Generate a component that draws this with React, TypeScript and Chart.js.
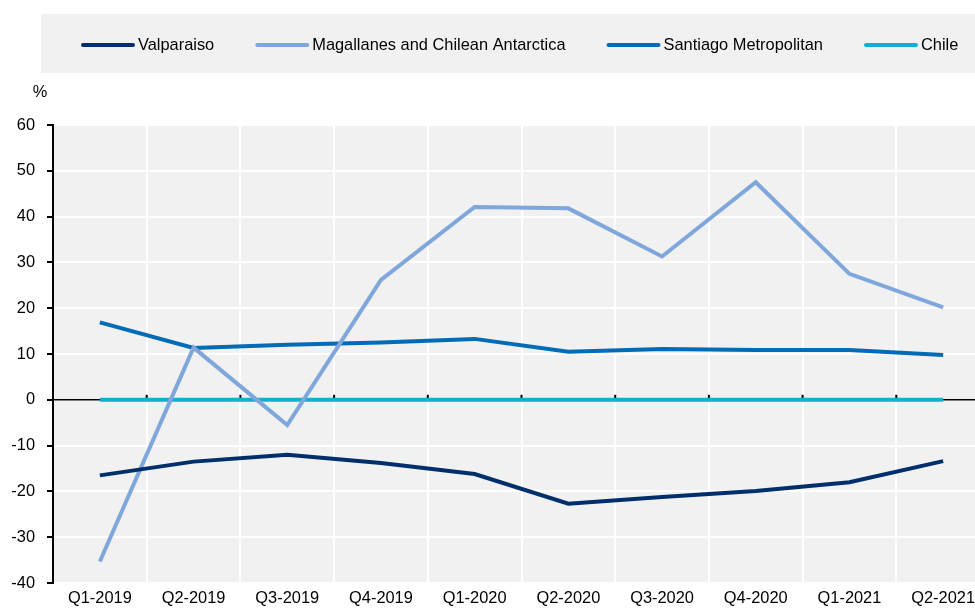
import React, { useEffect, useRef } from "react";
import { Chart, registerables } from "chart.js";

Chart.register(...registerables);

const categories = ["Q1-2019", "Q2-2019", "Q3-2019", "Q4-2019", "Q1-2020", "Q2-2020", "Q3-2020", "Q4-2020", "Q1-2021", "Q2-2021"];
const valparaiso = [-16.5, -13.5, -12.0, -13.8, -16.2, -22.7, -21.2, -19.9, -18.0, -13.4];
const magallanes = [-35.3, 11.4, -5.5, 26.2, 42.1, 41.8, 31.3, 47.5, 27.5, 20.2];
const santiago = [16.9, 11.3, 12.0, 12.5, 13.3, 10.5, 11.1, 10.9, 10.9, 9.8];
const chile = [0, 0, 0, 0, 0, 0, 0, 0, 0, 0];
const seriesNames = ["Valparaiso", "Magallanes and Chilean Antarctica", "Santiago Metropolitan", "Chile"];
const seriesColors = ["#002F6C", "#7FA7DB", "#006BB6", "#12B0CF"];
const yTicks = [60, 50, 40, 30, 20, 10, 0, -10, -20, -30, -40];
const unitLabel = "%";

const FONT = "Arial, 'Liberation Sans', sans-serif";
const FONT_SIZE = 16.4;
const PLOT_BG = "#F1F1F1";

const decorPlugin = {
  id: "decor",
  beforeDraw(chart: any) {
    const { ctx, chartArea } = chart;
    ctx.save();
    ctx.fillStyle = PLOT_BG;
    ctx.fillRect(41, 14, 975 - 41, 59);
    ctx.fillRect(chartArea.left, chartArea.top, chartArea.right - chartArea.left, chartArea.bottom - chartArea.top);
    ctx.restore();
  },
  beforeDatasetsDraw(chart: any) {
    const { ctx, chartArea, scales } = chart;
    const y0 = scales.y.getPixelForValue(0);
    ctx.save();
    ctx.strokeStyle = "#000";
    ctx.lineWidth = 1.5;
    ctx.beginPath();
    ctx.moveTo(chartArea.left, y0);
    ctx.lineTo(chartArea.right, y0);
    ctx.stroke();
    const xs = scales.x;
    const n = categories.length;
    const step = xs.getPixelForValue(1) - xs.getPixelForValue(0);
    ctx.lineWidth = 2;
    for (let i = 1; i < n; i++) {
      const x = xs.getPixelForValue(i) - step / 2;
      ctx.beginPath();
      ctx.moveTo(x, y0);
      ctx.lineTo(x, y0 - 5);
      ctx.stroke();
    }
    ctx.restore();
  },
  afterDraw(chart: any) {
    const { ctx } = chart;
    ctx.save();
    ctx.font = `${FONT_SIZE}px ${FONT}`;
    ctx.fillStyle = "#000";
    ctx.textBaseline = "middle";
    ctx.textAlign = "center";
    ctx.fillText(unitLabel, 40, 92);
    let x = 81;
    const y = 45;
    chart.data.datasets.forEach((ds: any) => {
      ctx.strokeStyle = ds.borderColor;
      ctx.lineWidth = 4;
      ctx.lineCap = "round";
      ctx.beginPath();
      ctx.moveTo(x + 2, y);
      ctx.lineTo(x + 52, y);
      ctx.stroke();
      x += 57;
      ctx.textAlign = "left";
      ctx.fillStyle = "#000";
      ctx.fillText(ds.label, x, y);
      x += ctx.measureText(ds.label).width + 41;
    });
    ctx.restore();
  },
};

export default function App() {
  const ref = useRef<HTMLCanvasElement>(null);
  useEffect(() => {
    if (!ref.current) return;
    const values = [valparaiso, magallanes, santiago, chile];
    const chart = new Chart(ref.current, {
      type: "line",
      data: {
        labels: categories,
        datasets: values.map((v, i) => ({
          label: seriesNames[i],
          data: v,
          borderColor: seriesColors[i],
          backgroundColor: seriesColors[i],
          borderWidth: 4,
          pointRadius: 0,
          tension: 0,
          fill: false,
        })),
      },
      options: {
        animation: false,
        responsive: false,
        maintainAspectRatio: false,
        layout: { padding: { top: 125, left: 0, right: 10, bottom: 0 } },
        plugins: {
          legend: { display: false },
          tooltip: { enabled: false },
        },
        scales: {
          x: {
            offset: true,
            afterFit(scale: any) { scale.height = 25; },
            grid: { offset: true, color: "#FFFFFF", lineWidth: 2, drawTicks: false },
            border: { display: false },
            ticks: { color: "#000", font: { family: FONT, size: FONT_SIZE }, padding: 6, maxRotation: 0, autoSkip: false },
          },
          y: {
            min: -40,
            max: 60,
            afterFit(scale: any) { scale.width = 53; },
            afterBuildTicks(scale: any) { scale.ticks = yTicks.map((v) => ({ value: v })); },
            grid: { color: "#FFFFFF", lineWidth: 2, tickColor: "#000", tickLength: 6, drawOnChartArea: true },
            border: { display: true, color: "#000", width: 2 },
            ticks: { color: "#000", font: { family: FONT, size: FONT_SIZE }, padding: 12 },
          },
        },
      },
      plugins: [decorPlugin],
    });
    return () => chart.destroy();
  }, []);
  return (
    <div style={{ position: "fixed", left: 0, top: 0, width: 975, height: 608, overflow: "hidden", background: "#fff" }}>
      <canvas ref={ref} width={1000} height={608} style={{ display: "block", width: 1000, height: 608 }} />
    </div>
  );
}
